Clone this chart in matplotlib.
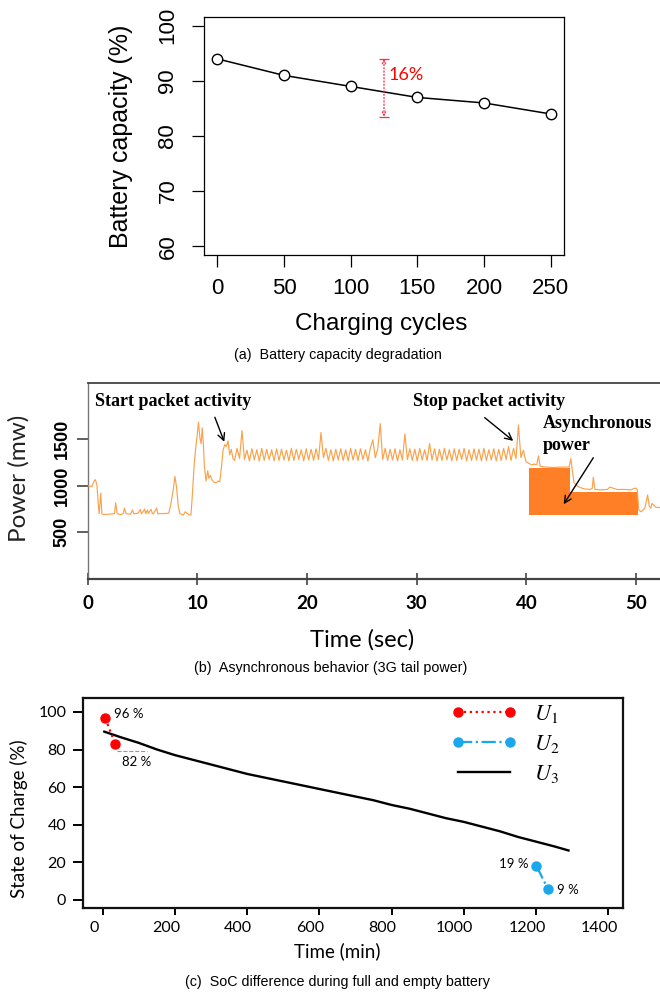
import numpy as np
import matplotlib
matplotlib.use("Agg")
import matplotlib.pyplot as plt
from matplotlib.transforms import ScaledTranslation

plt.rcParams['mathtext.fontset'] = 'stix'

# ---------------- data (a) ----------------
cycles = [0, 50, 100, 150, 200, 250]
capacity = [94, 91, 89, 87, 86, 84]
deg_x = 125
deg_low, deg_high = 83.5, 94

# ---------------- data (b) ----------------
t_idle = [0, 0.4, 0.55, 0.7, 0.85, 0.95, 1.05, 1.2, 1.3, 1.45, 2.0, 2.45, 2.56, 2.7, 3.0,
          3.25, 3.35, 3.5, 3.9, 4.1, 4.2, 4.3, 4.6, 4.8, 4.9, 5.1, 5.2, 5.3, 5.45, 5.55,
          5.65, 5.8, 5.9, 6.0, 6.2, 6.3, 6.4, 6.8, 7.4, 7.6, 7.8, 7.96, 8.1, 8.27, 8.42,
          8.73, 8.9, 9.2, 9.42]
p_idle = [1000, 990, 1040, 1065, 1010, 840, 700, 920, 700, 690, 695, 700, 815, 700, 690,
          700, 760, 700, 695, 740, 700, 700, 705, 745, 700, 730, 750, 700, 740, 700,
          725, 745, 700, 700, 740, 760, 700, 700, 705, 810, 950, 1100, 990, 775, 700,
          685, 720, 690, 685]
t_ramp = [9.55, 9.7, 9.85, 10.0, 10.1, 10.25, 10.35, 10.45, 10.55, 10.65, 10.8, 10.95,
          11.05, 11.2, 11.35, 11.5, 11.7, 11.9, 12.05, 12.2, 12.35, 12.5, 12.65, 12.8,
          12.95, 13.1, 13.25]
p_ramp = [900, 1200, 1400, 1550, 1680, 1500, 1450, 1620, 1450, 1200, 1050, 1160,
          1080, 1110, 1060, 1040, 1030, 1050, 1040, 1200, 1380, 1440, 1420, 1480,
          1330, 1390, 1290]
osc_start, osc_step = 13.4, 0.225
p_active = [1270, 1400, 1290, 1590, 1280, 1380, 1265, 1395, 1275, 1385,
            1265, 1400, 1270, 1390, 1280, 1385, 1265, 1395, 1270, 1390,
            1275, 1380, 1265, 1400, 1270, 1390, 1280, 1385, 1265, 1395,
            1275, 1390, 1270, 1395, 1280, 1570, 1300, 1400, 1270, 1385,
            1265, 1390, 1275, 1395, 1270, 1385, 1265, 1400, 1275, 1390,
            1270, 1395, 1280, 1385, 1265, 1400, 1490, 1300, 1395, 1665,
            1280, 1400, 1270, 1390, 1275, 1395, 1265, 1385, 1275, 1555,
            1280, 1395, 1270, 1390, 1265, 1400, 1275, 1385, 1270, 1450,
            1275, 1395, 1265, 1390, 1270, 1400, 1275, 1385, 1265, 1395,
            1270, 1390, 1280, 1400, 1265, 1385, 1270, 1395, 1275, 1390,
            1265, 1400, 1270, 1385, 1275, 1395, 1265, 1390, 1270, 1400,
            1280, 1420, 1270, 1400, 1290, 1650, 1300, 1380, 1260]
t_tail = [40.2, 40.45, 40.7, 40.95, 41.1, 41.25, 41.6, 42.5, 43.4, 43.9, 44.05, 44.2,
          44.35, 44.6, 44.9, 45.3, 45.8, 46.0, 46.1, 46.25, 46.8, 47.4, 47.6, 48.3,
          48.9, 49.5, 49.95, 50.1, 50.25, 50.45, 50.8, 51.05, 51.2, 51.35, 51.45,
          51.8, 52.1, 52.5]
p_tail = [1240, 1225, 1230, 1225, 1320, 1210, 1200, 1195, 1200, 1200, 1290, 1150,
          1030, 1000, 980, 965, 960, 970, 1090, 960, 955, 960, 985, 958,
          960, 955, 975, 960, 740, 720, 760, 900, 780, 760, 810, 770, 765, 780]
tail_start = [40.2, 44.0]
tail_width = [3.8, 6.2]
tail_top = [1185, 933]
tail_base = 683

# ---------------- data (c) ----------------
time_u3 = [4, 50, 100, 150, 200, 250, 300, 350, 400, 450, 500, 550, 600, 650, 700,
           750, 800, 850, 900, 950, 1000, 1050, 1100, 1150, 1200, 1250, 1290]
soc_u3 = [89.5, 86.5, 83.5, 80, 77, 74.5, 72, 69.5, 67, 65, 63, 61, 59, 57, 55,
          53, 50.5, 48.5, 46, 43.5, 41.5, 39, 36.5, 33.5, 31, 28.5, 26.3]
time_u1 = [7, 34]
soc_u1 = [96.5, 83]
time_u2 = [1201, 1233]
soc_u2 = [18.2, 5.8]
guide_x = [40, 122]
guide_y = [79.3, 79.3]

W, H = 660, 992
fig = plt.figure(figsize=(6.6, 9.92), dpi=100)

def box(l, t, r, b):
    return [l / W, 1 - b / H, (r - l) / W, (b - t) / H]

# ================= Panel (a) =================
SANS = 'Liberation Sans'
ax1 = fig.add_axes(box(204, 17, 564, 255))
ax1.plot(cycles, capacity, color='black', lw=1.1, marker='o', ms=7.5,
         mfc='white', mec='black', mew=1.0)
ax1.set_xlim(-10, 260)
ax1.set_ylim(58.4, 101.6)
ax1.set_xticks([0, 50, 100, 150, 200, 250])
ax1.set_yticks([60, 70, 80, 90, 100])
for s in ax1.spines.values():
    s.set_linewidth(0.9)
ax1.tick_params(direction='out', length=8.4, width=0.9, labelsize=16)
ax1.tick_params(axis='y', pad=10)
ax1.tick_params(axis='x', pad=8)
for lab in ax1.get_yticklabels():
    lab.set_rotation(90)
    lab.set_va('center')
    lab.set_family(SANS)
for lab in ax1.get_xticklabels():
    lab.set_family(SANS)
ax1.set_xlabel('Charging cycles', fontsize=17.5, family=SANS, va='center')
ax1.set_ylabel('Battery capacity (%)', fontsize=18, family=SANS, va='center')
ax1.xaxis.set_label_coords(0.493, -0.29)
ax1.yaxis.set_label_coords(-0.23, 0.5)
red = '#FF2A4A'
ax1.annotate('', xy=(deg_x, deg_high), xytext=(deg_x, deg_low),
             arrowprops=dict(arrowstyle='<->,head_length=0.25,head_width=0.12',
                             ls=':', color=red, lw=0.9, shrinkA=0, shrinkB=0))
ax1.hlines([deg_low, deg_high], deg_x - 4, deg_x + 4, colors=red, lw=0.9)
ax1.text(deg_x + 3.5, 91, '16%', color='red', fontsize=13, family='Lato',
         va='center', ha='left')
fig.text(338 / W, 1 - 355 / H, '(a)  Battery capacity degradation', ha='center',
         va='center', fontsize=10.3, family=SANS)

# ================= Panel (b) =================
ax2 = fig.add_axes(box(87.6, 383, 660, 579))
t_active = osc_start + osc_step * np.arange(len(p_active))
t_all = np.concatenate([t_idle, t_ramp, t_active, t_tail])
p_all = np.concatenate([p_idle, p_ramp, p_active, p_tail])
ax2.bar(tail_start, np.array(tail_top) - tail_base, width=tail_width, bottom=tail_base,
        align='edge', color='#FF7F27', edgecolor='none', zorder=2)
ax2.plot(t_all, p_all, color='#FAA24C', lw=0.85, zorder=3)
ax2.set_xlim(0, 52.18)
ax2.set_ylim(0, 2100)
ax2.set_xticks([0, 10, 20, 30, 40, 50])
ax2.set_yticks([500, 1000, 1500])
ax2.spines['right'].set_visible(False)
ax2.spines['top'].set_linewidth(1.3)
ax2.spines['top'].set_color('#444444')
ax2.spines['left'].set_linewidth(1.0)
ax2.spines['left'].set_color('#777777')
ax2.spines['bottom'].set_linewidth(1.6)
ax2.spines['bottom'].set_color('#444444')
ax2.tick_params(axis='x', direction='inout', length=9, width=1.2, color='#444444',
                labelsize=13.5, pad=7)
ax2.tick_params(axis='y', direction='out', length=8, width=1.2, color='#444444',
                labelsize=13, pad=4)
for lab in ax2.get_xticklabels():
    lab.set_family('Lato')
    lab.set_weight('bold')
for lab in ax2.get_yticklabels():
    lab.set_rotation(90)
    lab.set_va('center')
    lab.set_family(SANS)
    lab.set_weight('bold')
ax2.set_xlabel('Time (sec)', fontsize=17, family='Lato', va='center')
ax2.set_ylabel('Power (mw)', fontsize=17.5, family='Lato', va='center', color='#222222')
ax2.xaxis.set_label_coords(0.48, -0.311)
ax2.yaxis.set_label_coords(-0.1198, 0.515)
SERIF = 'Liberation Serif'
ax2.text(0.67, 1900, 'Start packet activity', family=SERIF, weight='bold', fontsize=13,
         va='center', ha='left')
ax2.text(29.7, 1900, 'Stop packet activity', family=SERIF, weight='bold', fontsize=13,
         va='center', ha='left')
ax2.text(41.5, 1669, 'Asynchronous', family=SERIF, weight='bold', fontsize=13,
         va='center', ha='left')
ax2.text(41.5, 1435, 'power', family=SERIF, weight='bold', fontsize=13,
         va='center', ha='left')
arr = dict(arrowstyle='->,head_length=0.5,head_width=0.25', color='black', lw=1.0,
           shrinkA=0, shrinkB=0)
ax2.annotate('', xy=(12.46, 1470), xytext=(11.6, 1733), arrowprops=arr)
ax2.annotate('', xy=(38.8, 1480), xytext=(36.2, 1729), arrowprops=arr)
ax2.annotate('', xy=(43.4, 801), xytext=(46.1, 1299), arrowprops=arr)
fig.text(331 / W, 1 - 668 / H, '(b)  Asynchronous behavior (3G tail power)', ha='center',
         va='center', fontsize=10.3, family=SANS)

# ================= Panel (c) =================
ax3 = fig.add_axes(box(83, 698, 623, 908))
l3, = ax3.plot(time_u3, soc_u3, color='black', lw=1.7, zorder=3)
l1, = ax3.plot(time_u1, soc_u1, color='#FF0000', ls=':', lw=1.6, marker='o', ms=6.5,
               zorder=4)
l2, = ax3.plot(time_u2, soc_u2, color='#1AA7EC', ls='-.', lw=1.6, marker='o', ms=6.5,
               zorder=4)
ax3.plot(guide_x, guide_y, color='#FF6A6A', ls='--', lw=0.8)
ax3.text(30, 98.8, '96 %', fontsize=9.5, family='Lato', va='center', ha='left')
ax3.text(53, 73.2, '82 %', fontsize=9.5, family='Lato', va='center', ha='left')
ax3.text(1178, 19.1, '19 %', fontsize=9.5, family='Lato', va='center', ha='right')
ax3.text(1259, 5.3, '9 %', fontsize=9.5, family='Lato', va='center', ha='left')
ax3.set_xlim(-55, 1441)
ax3.set_ylim(-4.3, 107.4)
ax3.set_xticks([0, 200, 400, 600, 800, 1000, 1200, 1400])
ax3.set_yticks([0, 20, 40, 60, 80, 100])
for s in ax3.spines.values():
    s.set_linewidth(1.6)
    s.set_color('#111111')
ax3.tick_params(axis='both', direction='out', width=1.4, labelsize=11.5)
ax3.tick_params(axis='y', length=7, pad=5)
ax3.tick_params(axis='x', length=5, pad=4)
off = ScaledTranslation(-9 / 100, 0, fig.dpi_scale_trans)
for lab in ax3.get_xticklabels():
    lab.set_family('Lato')
    lab.set_transform(lab.get_transform() + off)
for lab in ax3.get_yticklabels():
    lab.set_family('Lato')
ax3.set_xlabel('Time (min)', fontsize=13.5, family='Lato', va='center')
ax3.set_ylabel('State of Charge (%)', fontsize=13.5, family='Lato', va='center')
ax3.xaxis.set_label_coords(0.4715, -0.208)
ax3.yaxis.set_label_coords(-0.1185, 0.424)
ax3.legend([l1, l2, l3], ['$U_1$', '$U_2$', '$U_3$'], loc='upper left',
           bbox_to_anchor=(0.683, 0.975), frameon=False, fontsize=16, numpoints=2,
           handlelength=2.9, handletextpad=0.8, labelspacing=0.35, borderpad=0,
           borderaxespad=0)
fig.text(337 / W, 1 - 982 / H, '(c)  SoC difference during full and empty battery',
         ha='center', va='center', fontsize=10.3, family=SANS)

fig.savefig('out.png', dpi=100)
